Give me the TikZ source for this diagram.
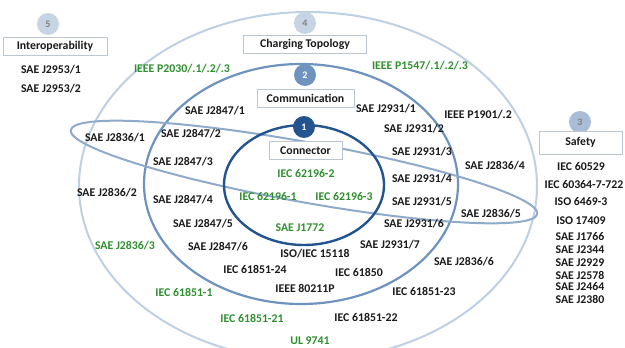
\documentclass[tikz,border=0pt]{standalone}
\usepackage{fontspec}
\setmainfont{Carlito}
\definecolor{outerc}{HTML}{BFD0E4}
\definecolor{midc}{HTML}{6F93BF}
\definecolor{innerc}{HTML}{24548E}
\definecolor{tiltc}{HTML}{8FAACB}
\definecolor{greent}{HTML}{2F8F2F}
\definecolor{darkt}{HTML}{1A1A1A}
\definecolor{boxc}{HTML}{BCC6D0}
\definecolor{badgelight}{HTML}{C6D4E4}
\definecolor{badgethree}{HTML}{A9BDD6}
\begin{document}
\begin{tikzpicture}[x=1pt,y=-1pt,
  lbl/.style={text=darkt,font=\fontsize{11.8}{13}\selectfont\bfseries,inner sep=0pt},
  glbl/.style={lbl,text=greent},
  titlebox/.style={draw=boxc,line width=0.8pt,fill=white,text=darkt,font=\fontsize{11.8}{13}\selectfont\bfseries,inner sep=0pt,minimum height=18pt},
  badge/.style={circle,inner sep=0pt,minimum size=22pt,font=\fontsize{10}{12}\selectfont\bfseries}
]
\useasboundingbox (0,0) rectangle (625,348);
\clip (0,0) rectangle (625,348);
\fill[white] (0,0) rectangle (625,348);

% domains
\draw[outerc,line width=2pt] (308,186) ellipse[x radius=229pt, y radius=174pt];
\draw[midc,line width=2.2pt] (301,184) ellipse[x radius=157pt, y radius=120pt];
\draw[tiltc,line width=2pt,rotate around={-10.2:(304,172)}] (304,172) ellipse[x radius=237pt, y radius=30pt];
\draw[innerc,line width=2.4pt] (304,185) ellipse[x radius=80pt, y radius=60pt];

% badges
\node[badge,fill=badgelight,text=gray] (b5) at (48,24) {5};
\node[badge,fill=badgelight,text=gray] (b4) at (305,23) {4};
\node[badge,fill=midc,text=white] (b2) at (305,75) {2};
\node[badge,fill=innerc,text=white] (b1) at (304,127) {1};
\node[badge,fill=badgethree,text=gray] (b3) at (580,122) {3};

% title boxes
\node[titlebox,minimum width=104pt] (interop) at (55,46) {Interoperability};
\node[titlebox,minimum width=123pt] (topo) at (305,44) {Charging Topology};
\node[titlebox,minimum width=97pt] (comm) at (305.5,98) {Communication};
\node[titlebox,minimum width=73pt] (conn) at (305.5,150.5) {Connector};
\node[titlebox,minimum width=83pt,minimum height=23pt] (safety) at (580.5,142.5) {Safety};

% interoperability
\node[lbl] (t1) at (51,70) {SAE J2953/1};
\node[lbl] (t2) at (51,89) {SAE J2953/2};

% topology
\node[glbl] (t3) at (182,69) {IEEE P2030/.1/.2/.3};
\node[glbl] (t4) at (420,66) {IEEE P1547/.1/.2/.3};
\node[lbl] (t5) at (478,115) {IEEE P1901/.2};

% communication
\node[lbl] (t6) at (215,111) {SAE J2847/1};
\node[lbl] (t7) at (386,109) {SAE J2931/1};
\node[lbl] (t8) at (191,134) {SAE J2847/2};
\node[lbl] (t9) at (414,129) {SAE J2931/2};
\node[lbl] (t10) at (183,162) {SAE J2847/3};
\node[lbl] (t11) at (422,152) {SAE J2931/3};
\node[lbl] (t12) at (183,200) {SAE J2847/4};
\node[lbl] (t13) at (422,179) {SAE J2931/4};
\node[lbl] (t14) at (422,202) {SAE J2931/5};
\node[lbl] (t15) at (414,224) {SAE J2931/6};
\node[lbl] (t16) at (203,224) {SAE J2847/5};
\node[lbl] (t17) at (218,247) {SAE J2847/6};
\node[lbl] (t18) at (315,254) {ISO/IEC 15118};
\node[lbl] (t19) at (390,245) {SAE J2931/7};
\node[lbl] (t20) at (255,269) {IEC 61851-24};
\node[lbl] (t21) at (359,272) {IEC 61850};
\node[lbl] (t22) at (305,288) {IEEE 80211P};

% J2836 series
\node[lbl] (t23) at (115,138) {SAE J2836/1};
\node[lbl] (t24) at (107,193) {SAE J2836/2};
\node[glbl] (t25) at (125,246) {SAE J2836/3};
\node[lbl] (t26) at (495,166) {SAE J2836/4};
\node[lbl] (t27) at (491,214) {SAE J2836/5};
\node[lbl] (t28) at (464,262) {SAE J2836/6};

% outer
\node[glbl] (t29) at (184,292) {IEC 61851-1};
\node[lbl] (t30) at (424,291) {IEC 61851-23};
\node[glbl] (t31) at (252,318) {IEC 61851-21};
\node[lbl] (t32) at (366,317) {IEC 61851-22};
\node[glbl] (t33) at (310,341) {UL 9741};

% connector
\node[glbl] (c1) at (306,174) {IEC 62196-2};
\node[glbl] (c2) at (268,197) {IEC 62196-1};
\node[glbl] (c3) at (344,197) {IEC 62196-3};
\node[glbl] (c4) at (300,228) {SAE J1772};

% safety
\node[lbl] (s1) at (581,167) {IEC 60529};
\node[lbl] (s2) at (584,185) {IEC 60364-7-722};
\node[lbl] (s3) at (581,202) {ISO 6469-3};
\node[lbl] (s4) at (581,221) {ISO 17409};
\node[lbl] (s5) at (580,237) {SAE J1766};
\node[lbl] (s6) at (580,250) {SAE J2344};
\node[lbl] (s7) at (580,263) {SAE J2929};
\node[lbl] (s8) at (580,275) {SAE J2578};
\node[lbl] (s9) at (580,287) {SAE J2464};
\node[lbl] (s10) at (580,299) {SAE J2380};
\end{tikzpicture}
\end{document}
